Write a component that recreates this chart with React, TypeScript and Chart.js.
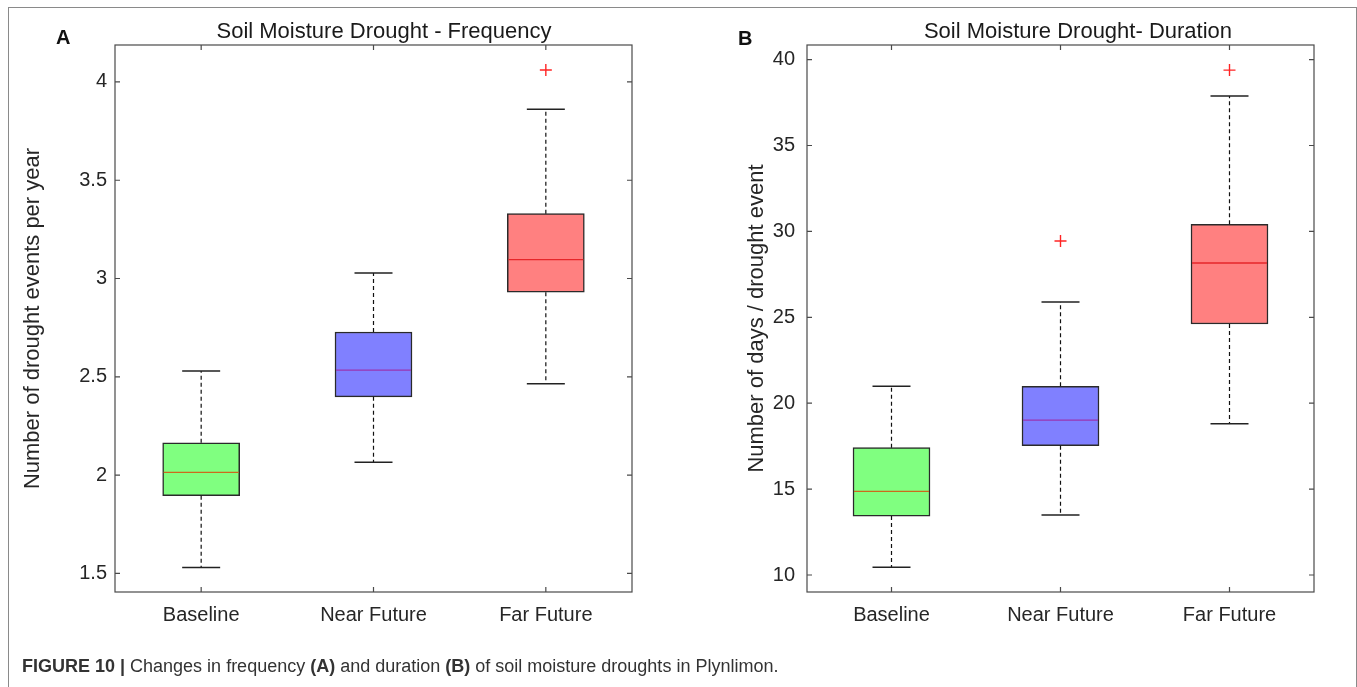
import React, { useEffect, useRef } from "react";
import { Chart, registerables } from "chart.js";

Chart.register(...registerables);

const FONT = "'Liberation Sans', Arial, Helvetica, sans-serif";

const CATEGORIES = ["Baseline", "Near Future", "Far Future"];

// Panel A – frequency (events per year)
const FREQ_Q1 = [1.895, 2.398, 2.93];
const FREQ_Q3 = [2.164, 2.728, 3.33];
const FREQ_MEDIAN = [2.014, 2.534, 3.096];
const FREQ_LOWER = [1.53, 2.065, 2.465];
const FREQ_UPPER = [2.529, 3.028, 3.861];
const FREQ_OUTLIERS = [null, null, 4.061];
const FREQ_TICKS = [1.5, 2, 2.5, 3, 3.5, 4];

// Panel B – duration (days / event)
const DUR_Q1 = [13.43, 17.53, 24.61];
const DUR_Q3 = [17.41, 20.98, 30.41];
const DUR_MEDIAN = [14.87, 19.02, 28.16];
const DUR_LOWER = [10.45, 13.49, 18.81];
const DUR_UPPER = [20.98, 25.89, 37.88];
const DUR_OUTLIERS = [null, 29.44, 39.39];
const DUR_TICKS = [10, 15, 20, 25, 30, 35, 40];

const BOX_COLORS = ["#80ff80", "#8080ff", "#ff8080"];
const MEDIAN_COLORS = ["#cc6a1c", "#9a35b0", "#e6262a"];

type Stats = {
  q1: number[];
  q3: number[];
  median: number[];
  lower: number[];
  upper: number[];
  outliers: (number | null)[];
};

const BOX_PX = 77;
const CAP_PX = 38;

function makeBoxPlugin(stats: Stats) {
  return {
    id: "boxExtras",
    afterDatasetsDraw(chart: any) {
      const { ctx } = chart;
      const x = chart.scales.x;
      const y = chart.scales.y;
      ctx.save();
      stats.median.forEach((_m, i) => {
        const cx = x.getPixelForValue(i);
        // whiskers (dashed)
        ctx.strokeStyle = "#111";
        ctx.lineWidth = 1.2;
        ctx.setLineDash([4, 3]);
        ctx.beginPath();
        ctx.moveTo(cx, y.getPixelForValue(stats.q3[i]));
        ctx.lineTo(cx, y.getPixelForValue(stats.upper[i]));
        ctx.moveTo(cx, y.getPixelForValue(stats.q1[i]));
        ctx.lineTo(cx, y.getPixelForValue(stats.lower[i]));
        ctx.stroke();
        // caps
        ctx.setLineDash([]);
        ctx.lineWidth = 1.5;
        ctx.strokeStyle = "#222";
        ctx.beginPath();
        const yu = y.getPixelForValue(stats.upper[i]);
        const yl = y.getPixelForValue(stats.lower[i]);
        ctx.moveTo(cx - CAP_PX / 2, yu);
        ctx.lineTo(cx + CAP_PX / 2, yu);
        ctx.moveTo(cx - CAP_PX / 2, yl);
        ctx.lineTo(cx + CAP_PX / 2, yl);
        ctx.stroke();
        // median
        const ym = y.getPixelForValue(stats.median[i]);
        ctx.strokeStyle = MEDIAN_COLORS[i];
        ctx.lineWidth = 1.3;
        ctx.beginPath();
        ctx.moveTo(cx - BOX_PX / 2 + 1, ym);
        ctx.lineTo(cx + BOX_PX / 2 - 1, ym);
        ctx.stroke();
      });
      ctx.restore();
    },
  };
}

const framePlugin = {
  id: "frameTicks",
  afterDraw(chart: any) {
    const { ctx, chartArea: a } = chart;
    const x = chart.scales.x;
    const y = chart.scales.y;
    const T = 5;
    ctx.save();
    ctx.strokeStyle = "#4a4a4a";
    ctx.lineWidth = 1.2;
    ctx.setLineDash([]);
    ctx.strokeRect(a.left, a.top, a.right - a.left, a.bottom - a.top);
    ctx.beginPath();
    y.ticks.forEach((_t: any, i: number) => {
      const py = y.getPixelForTick(i);
      ctx.moveTo(a.left, py);
      ctx.lineTo(a.left + T, py);
      ctx.moveTo(a.right, py);
      ctx.lineTo(a.right - T, py);
    });
    x.ticks.forEach((_t: any, i: number) => {
      const px = x.getPixelForTick(i);
      ctx.moveTo(px, a.bottom);
      ctx.lineTo(px, a.bottom - T);
      ctx.moveTo(px, a.top);
      ctx.lineTo(px, a.top + T);
    });
    ctx.stroke();
    ctx.restore();
  },
};

type PanelProps = {
  left: number;
  width: number;
  height: number;
  stats: Stats;
  tickValues: number[];
  min: number;
  max: number;
  yTitle: string;
  yTitlePad: number;
  yAxisWidth: number;
  tickPad: number;
  padRight: number;
};

function BoxPanel(p: PanelProps) {
  const ref = useRef<HTMLCanvasElement>(null);
  useEffect(() => {
    const chart = new Chart(ref.current as HTMLCanvasElement, {
      type: "bar",
      data: {
        labels: CATEGORIES,
        datasets: [
          {
            type: "bar",
            data: p.stats.q1.map((v, i) => [v, p.stats.q3[i]]) as any,
            backgroundColor: BOX_COLORS,
            borderColor: "#2a2a2a",
            borderWidth: 1.5,
            borderSkipped: false,
            barThickness: BOX_PX,
            order: 2,
          } as any,
          {
            type: "line",
            data: p.stats.outliers as any,
            showLine: false,
            pointStyle: "cross",
            pointRadius: 6,
            pointHoverRadius: 6,
            pointBorderColor: "#ff2424",
            pointBorderWidth: 1.4,
            borderColor: "#ff2424",
            order: 1,
          } as any,
        ],
      },
      options: {
        responsive: false,
        animation: false,
        events: [],
        layout: { padding: { top: 45, right: p.padRight, bottom: 28, left: 0 } },
        plugins: {
          legend: { display: false },
          tooltip: { enabled: false },
          title: { display: false },
        },
        scales: {
          x: {
            type: "category",
            offset: true,
            grid: { display: false, drawTicks: false },
            border: { display: false },
            ticks: {
              font: { family: FONT, size: 20 },
              color: "#262626",
              padding: 11,
              maxRotation: 0,
              autoSkip: false,
            },
            afterFit: (s: any) => {
              s.height = 40;
            },
          },
          y: {
            type: "linear",
            min: p.min,
            max: p.max,
            grid: { display: false, drawTicks: false },
            border: { display: false },
            ticks: {
              font: { family: FONT, size: 20 },
              color: "#262626",
              padding: p.tickPad,
              callback: (v: any) => String(v),
            },
            afterBuildTicks: (s: any) => {
              s.ticks = p.tickValues.map((v) => ({ value: v }));
            },
            afterFit: (s: any) => {
              s.width = p.yAxisWidth;
            },
            title: {
              display: true,
              text: p.yTitle,
              font: { family: FONT, size: 22 },
              color: "#262626",
              padding: { top: p.yTitlePad, bottom: 0 },
            },
          },
        },
      } as any,
      plugins: [makeBoxPlugin(p.stats), framePlugin],
    });
    return () => chart.destroy();
  }, []);
  return (
    <canvas
      ref={ref}
      width={p.width}
      height={p.height}
      style={{ position: "absolute", left: p.left, top: 0, width: p.width, height: p.height }}
    />
  );
}

const textBase: React.CSSProperties = {
  position: "absolute",
  fontFamily: FONT,
  whiteSpace: "nowrap",
  margin: 0,
};

export default function App() {
  const freq: Stats = {
    q1: FREQ_Q1,
    q3: FREQ_Q3,
    median: FREQ_MEDIAN,
    lower: FREQ_LOWER,
    upper: FREQ_UPPER,
    outliers: FREQ_OUTLIERS,
  };
  const dur: Stats = {
    q1: DUR_Q1,
    q3: DUR_Q3,
    median: DUR_MEDIAN,
    lower: DUR_LOWER,
    upper: DUR_UPPER,
    outliers: DUR_OUTLIERS,
  };
  return (
    <div
      style={{
        position: "fixed",
        left: 0,
        top: 0,
        width: 1357,
        height: 687,
        overflow: "hidden",
        background: "#fff",
      }}
    >
      <div
        style={{
          position: "absolute",
          left: 8,
          top: 7,
          width: 1349,
          height: 700,
          boxSizing: "border-box",
          border: "1px solid #8a8a8a",
        }}
      />
      <BoxPanel
        left={0}
        width={680}
        height={660}
        stats={freq}
        tickValues={FREQ_TICKS}
        min={1.405}
        max={4.188}
        yTitle="Number of drought events per year"
        yTitlePad={20}
        yAxisWidth={115}
        tickPad={8}
        padRight={48}
      />
      <BoxPanel
        left={680}
        width={677}
        height={660}
        stats={dur}
        tickValues={DUR_TICKS}
        min={9.01}
        max={40.85}
        yTitle="Number of days / drought event"
        yTitlePad={64}
        yAxisWidth={127}
        tickPad={12}
        padRight={43}
      />
      <div
        style={{
          ...textBase,
          left: 184,
          width: 400,
          top: 20,
          textAlign: "center",
          fontSize: 22,
          lineHeight: "22px",
          color: "#1a1a1a",
        }}
      >
        Soil Moisture Drought - Frequency
      </div>
      <div
        style={{
          ...textBase,
          left: 878,
          width: 400,
          top: 20,
          textAlign: "center",
          fontSize: 22,
          lineHeight: "22px",
          color: "#1a1a1a",
        }}
      >
        Soil Moisture Drought- Duration
      </div>
      <div
        style={{
          ...textBase,
          left: 56,
          top: 27,
          fontSize: 20,
          lineHeight: "20px",
          fontWeight: "bold",
          color: "#111",
        }}
      >
        A
      </div>
      <div
        style={{
          ...textBase,
          left: 738,
          top: 28,
          fontSize: 20,
          lineHeight: "20px",
          fontWeight: "bold",
          color: "#111",
        }}
      >
        B
      </div>
      <div
        style={{
          ...textBase,
          left: 22,
          top: 657,
          fontSize: 18,
          lineHeight: "18px",
          color: "#333",
        }}
      >
        <b>FIGURE 10 | </b>Changes in frequency <b>(A)</b> and duration <b>(B)</b> of soil moisture
        droughts in Plynlimon.
      </div>
    </div>
  );
}
